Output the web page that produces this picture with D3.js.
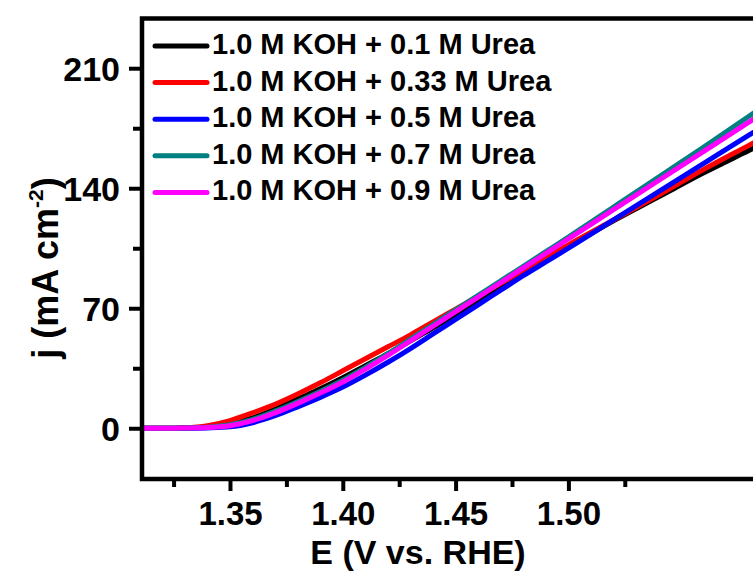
<!DOCTYPE html>
<html>
<head>
<meta charset="utf-8">
<script src="https://cdn.jsdelivr.net/npm/d3@7"></script>
<style>
  body { margin: 0; background: #fff; }
  svg { display: block; font-family: "Liberation Sans", Arial, sans-serif; font-weight: bold; }
</style>
</head>
<body>
<svg id="canvas" width="753" height="572"></svg>
<script>
// potential (V vs. RHE) and current density (mA cm-2)
const potential = [1.31, 1.32, 1.33, 1.34, 1.35, 1.36, 1.37, 1.38, 1.39, 1.40, 1.41, 1.42, 1.43,
  1.44, 1.45, 1.46, 1.47, 1.48, 1.49, 1.50, 1.52, 1.54, 1.56, 1.58, 1.60];
const urea01 = [0, 0, 0.2, 0.8, 2.5, 6, 11, 17, 23, 29.5, 36.5, 43.5, 51,
  58.5, 66.5, 74.5, 82.5, 90.5, 98.5, 106, 121, 135, 149, 162, 175];
const urea033 = [0, 0, 0.3, 1.5, 4.5, 9, 14, 20, 26.5, 33.5, 40.5, 47.5, 54.5,
  62, 69.5, 77, 84.5, 92, 99.5, 107, 121.5, 136, 151, 165, 179];
const urea05 = [0, 0, 0, 0.2, 0.8, 3.2, 7.3, 12.5, 18, 24, 31, 38.5, 46.5,
  55, 63.5, 72, 80.5, 89, 97, 105, 121.5, 138, 154.5, 171, 187];
const urea07 = [0, 0, 0.2, 0.6, 2, 5.2, 10, 15.5, 21.5, 28, 35.5, 43.5, 52,
  60.5, 69, 77.5, 86, 94.5, 103, 111.5, 129, 146.5, 164, 182, 200];
const urea09 = [0, 0, 0.1, 0.4, 1.5, 4.5, 9, 14.5, 20.5, 27, 34.5, 42.5, 51,
  59.5, 68, 76.5, 85, 93.5, 102, 110.5, 127.5, 144.5, 161.5, 178.5, 195.5];

const seriesNames = ["1.0 M KOH + 0.1 M Urea", "1.0 M KOH + 0.33 M Urea", "1.0 M KOH + 0.5 M Urea",
  "1.0 M KOH + 0.7 M Urea", "1.0 M KOH + 0.9 M Urea"];
const seriesValues = [urea01, urea033, urea05, urea07, urea09];
const seriesColors = ["#000000", "#ff0000", "#0000ff", "#008080", "#ff00ff"];

const xTicks = [1.35, 1.40, 1.45, 1.50];
const xMinor = [1.325, 1.375, 1.425, 1.475, 1.525];
const yTicks = [0, 70, 140, 210];
const yMinor = [35, 105, 175];

const settings = {
  left: 142, top: 18.5, right: 794, bottom: 479,
  frame: 4.5, line: 5,
};

const svg = d3.select("#canvas");
svg.append("rect").attr("width", 753).attr("height", 572).attr("fill", "#fff");

const x = d3.scaleLinear()
  .domain([1.311, 1.60])
  .range([settings.left, settings.right]);

const y = d3.scaleLinear()
  .domain([-29.6, 239])
  .range([settings.bottom, settings.top]);

// clip the curves to the plot box
svg.append("clipPath").attr("id", "plot")
  .append("rect")
  .attr("x", settings.left).attr("y", settings.top)
  .attr("width", settings.right - settings.left)
  .attr("height", settings.bottom - settings.top);

const line = d3.line()
  .x((d, i) => x(potential[i]))
  .y(d => y(d))
  .curve(d3.curveMonotoneX);

svg.append("g")
  .attr("clip-path", "url(#plot)")
  .selectAll("path")
  .data(seriesValues)
  .join("path")
  .attr("d", d => line(d))
  .attr("fill", "none")
  .attr("stroke", (d, i) => seriesColors[i])
  .attr("stroke-width", settings.line)
  .attr("stroke-linejoin", "round");

// axes
const styleAxis = g => {
  g.select(".domain").remove();
  g.selectAll(".tick line").attr("stroke", "#000").attr("stroke-width", 4);
};

svg.append("g")
  .attr("transform", `translate(${settings.left},0)`)
  .call(d3.axisLeft(y).tickValues(yTicks).tickSize(13).tickPadding(9).tickFormat(d3.format("d")))
  .call(styleAxis)
  .call(g => g.selectAll(".tick text")
    .attr("font-size", 34).attr("font-family", null).attr("fill", "#000").attr("dy", "0.35em"));

svg.append("g")
  .attr("transform", `translate(${settings.left},0)`)
  .call(d3.axisLeft(y).tickValues(yMinor).tickSize(9).tickFormat(""))
  .call(styleAxis);

svg.append("g")
  .attr("transform", `translate(0,${settings.bottom})`)
  .call(d3.axisBottom(x).tickValues(xTicks).tickSize(12).tickFormat(d3.format(".2f")))
  .call(styleAxis)
  .call(g => g.selectAll(".tick text")
    .attr("font-size", 33).attr("font-family", null).attr("fill", "#000")
    .attr("y", 46).attr("dy", null));

svg.append("g")
  .attr("transform", `translate(0,${settings.bottom})`)
  .call(d3.axisBottom(x).tickValues(xMinor).tickSize(8).tickFormat(""))
  .call(styleAxis);

// frame
svg.append("rect")
  .attr("x", settings.left).attr("y", settings.top)
  .attr("width", settings.right - settings.left)
  .attr("height", settings.bottom - settings.top)
  .attr("fill", "none")
  .attr("stroke", "#000")
  .attr("stroke-width", settings.frame);

// axis titles
svg.append("text")
  .attr("x", 418).attr("y", 564)
  .attr("text-anchor", "middle")
  .attr("font-size", 34)
  .text("E (V vs. RHE)");

const ytitle = svg.append("text")
  .attr("transform", "translate(58,268) rotate(-90)")
  .attr("text-anchor", "middle")
  .attr("font-size", 36);
ytitle.append("tspan").text("j (mA cm");
ytitle.append("tspan").attr("font-size", 21).attr("dy", -15).text("-2");
ytitle.append("tspan").attr("dy", 15).text(")");

// legend
const legend = svg.append("g").attr("class", "legend");
const rows = legend.selectAll("g")
  .data(seriesNames)
  .join("g")
  .attr("transform", (d, i) => `translate(0,${46 + i * 36.6})`);
rows.append("line")
  .attr("x1", 155).attr("x2", 207)
  .attr("stroke", (d, i) => seriesColors[i])
  .attr("stroke-width", 5)
  .attr("stroke-linecap", "round");
rows.append("text")
  .attr("x", 212).attr("y", 8)
  .attr("font-size", 29)
  .text(d => d);
</script>
</body>
</html>
